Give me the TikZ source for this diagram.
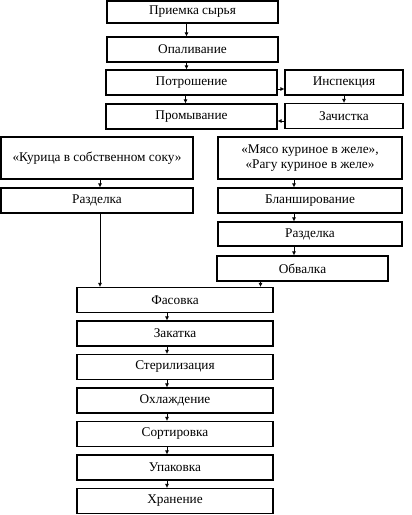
\documentclass[tikz,border=0pt]{standalone}
\usepackage{fontspec}
\setmainfont{Liberation Serif}
\usetikzlibrary{arrows.meta,positioning}
\newcommand{\boxfont}{\fontsize{13.3}{14.5}\selectfont}

\begin{document}
\begin{tikzpicture}[x=1pt,y=-1pt,
    stage/.style={draw,line width=1.1pt,inner sep=0pt,align=center,font=\boxfont},
    arr/.style={-{Latex[length=4pt,width=4pt]},line width=0.7pt}]
  \useasboundingbox (0,0) rectangle (412,515);
  % upper part
  \node[stage,minimum width=171pt,minimum height=22pt] (priem) at (192.5,12) {Приемка сырья};
  \node[stage,minimum width=171pt,minimum height=25pt] (opal) at (192.5,49.5) {Опаливание};
  \node[stage,minimum width=171pt,minimum height=25pt] (potr) at (191.5,82.5) {Потрошение};
  \node[stage,minimum width=171pt,minimum height=25pt] (prom) at (191.5,116.5) {Промывание};
  \node[stage,minimum width=118pt,minimum height=25pt] (insp) at (344,82.5) {Инспекция};
  \node[stage,minimum width=118pt,minimum height=25pt] (zach) at (344,116) {Зачистка};
  \foreach \a/\b in {priem/opal,opal/potr,potr/prom}
    \draw[arr] ([xshift=-6pt]\a.south) -- ([xshift=-6pt]\a.south |- \b.north);
  \draw[arr] ([yshift=-6.5pt]potr.east) -- ([yshift=-6.5pt]potr.east -| insp.west);
  \draw[arr] (insp) -- (zach);
  \draw[arr] ([yshift=-5pt]zach.west) -- ([yshift=-5pt]zach.west -| prom.east);
  % two branches
  \node[stage,minimum width=192pt,minimum height=42pt] (kur) at (97,158) {«Курица в собственном соку»};
  \node[stage,minimum width=192pt,minimum height=25pt] (razdL) at (97,200.5) {Разделка};
  \node[stage,minimum width=184pt,minimum height=42pt] (myaso) at (310,158) {«Мясо куриное в желе»,\\«Рагу куриное в желе»};
  \node[stage,minimum width=184pt,minimum height=25pt] (blan) at (310,200.5) {Бланширование};
  \node[stage,minimum width=184pt,minimum height=24pt] (razdR) at (310,234) {Разделка};
  \node[stage,minimum width=171pt,minimum height=25pt] (obv) at (302.5,268.5) {Обвалка};
  \draw[arr] ([xshift=3pt]kur.south) -- ([xshift=3pt]kur.south |- razdL.north);
  \foreach \a/\b in {myaso/blan,blan/razdR,razdR/obv}
    \draw[arr] ([xshift=-16pt]\a.south -| myaso.south) -- ([xshift=-16pt]myaso.south |- \b.north);
  % common line
  \foreach \name/\txt [count=\i from 0] in {fas/Фасовка,zak/Закатка,ster/Стерилизация,ohl/Охлаждение,sort/Сортировка,upak/Упаковка,hran/Хранение}
    \node[stage,minimum width=196pt,minimum height=25pt] (\name) at (175,300+33.5*\i) {\txt};
  \draw[arr] ([xshift=3pt]razdL.south) -- ([xshift=3pt]razdL.south |- fas.north);
  \draw[arr] ([xshift=-42pt]obv.south) -- ([xshift=-42pt]obv.south |- fas.north);
  \foreach \a/\b in {fas/zak,zak/ster,ster/ohl,ohl/sort,sort/upak,upak/hran}
    \draw[arr] ([xshift=-8pt]\a.south) -- ([xshift=-8pt]\a.south |- \b.north);
\end{tikzpicture}
\end{document}
